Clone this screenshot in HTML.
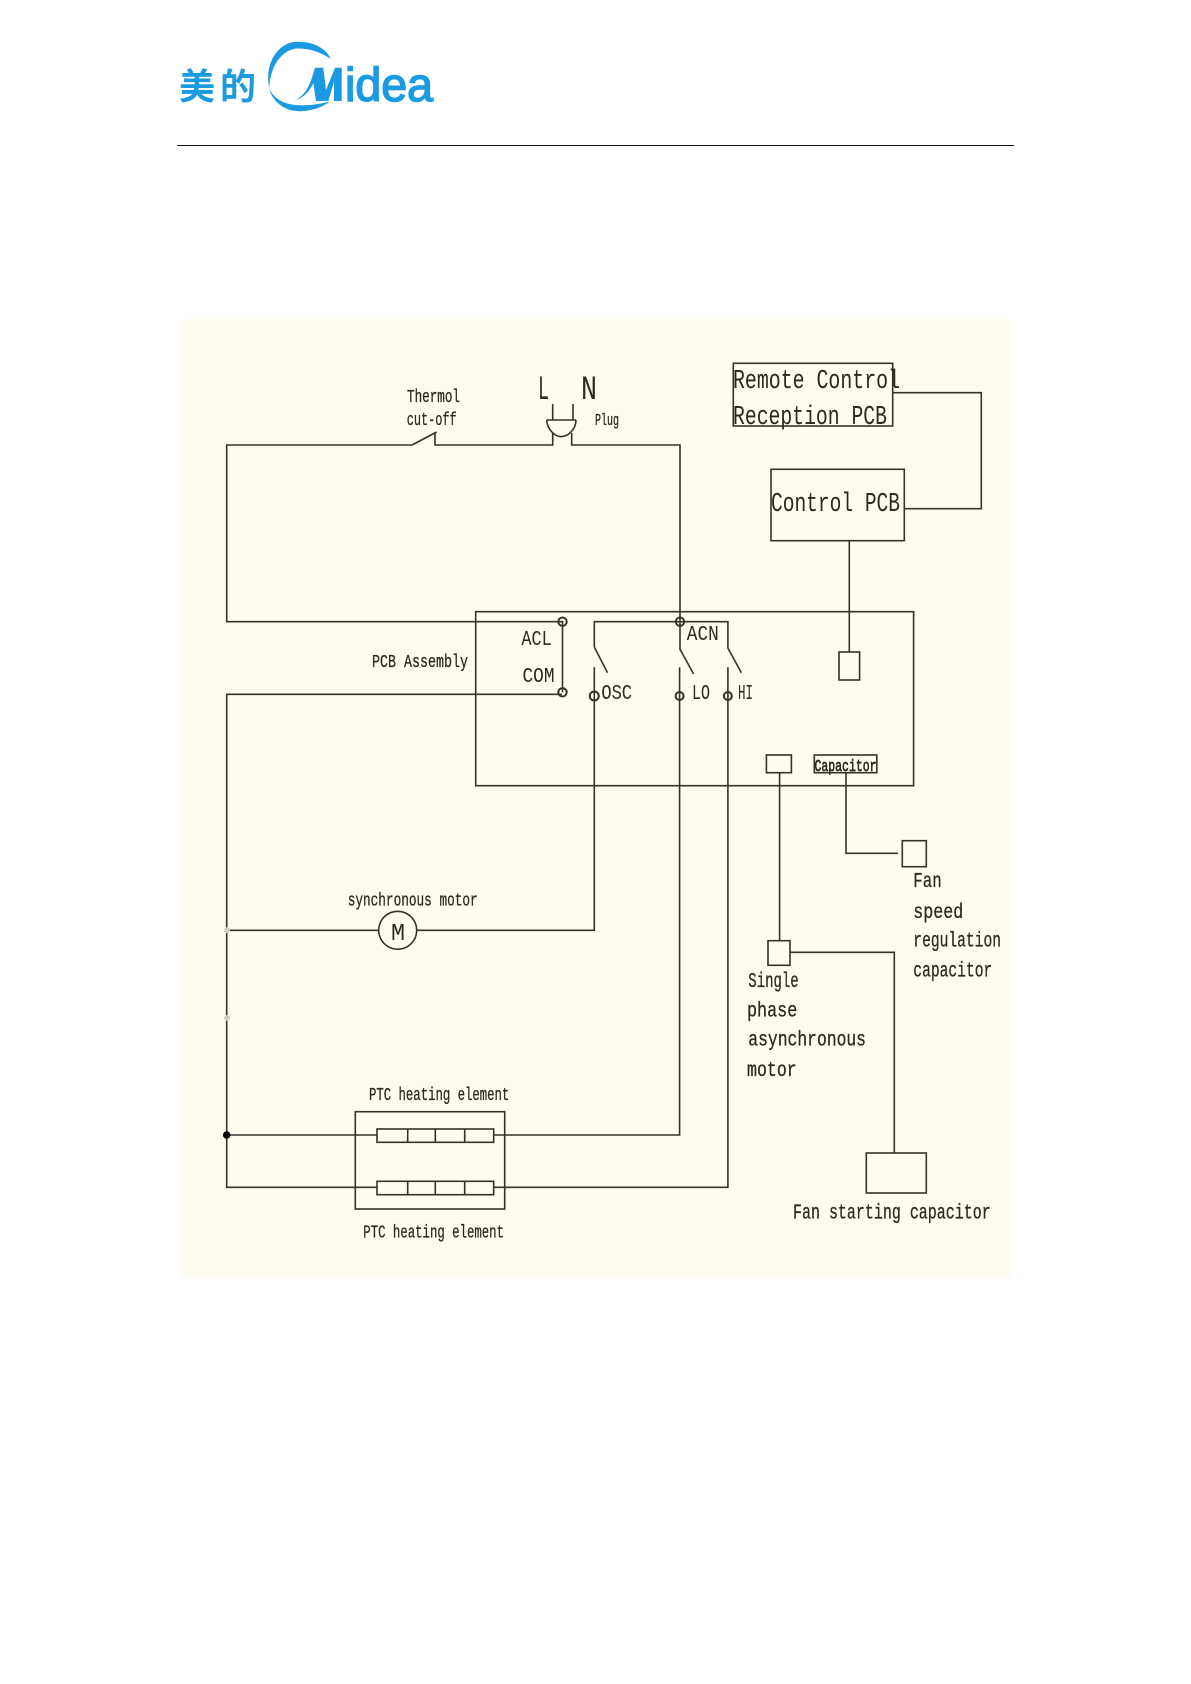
<!DOCTYPE html>
<html><head><meta charset="utf-8"><style>
html,body{margin:0;padding:0;background:#fff}
svg{display:block}
.t text{font-family:"Liberation Mono","Liberation Sans",monospace;fill:#2a2a20;stroke:#2a2a20;stroke-width:.3}
.t text.l{stroke-width:0}
</style></head><body>
<svg width="1191" height="1684" viewBox="0 0 1191 1684" xmlns="http://www.w3.org/2000/svg">
<defs><filter id="b" x="-2%" y="-2%" width="104%" height="104%"><feGaussianBlur stdDeviation="2"/></filter></defs>
<rect width="1191" height="1684" fill="#fff"/>
<rect x="181" y="319" width="830" height="958" fill="#fefcf0" filter="url(#b)"/>
<line x1="177" y1="145.5" x2="1014" y2="145.5" stroke="#111" stroke-width="1.1"/>

<!-- logo -->
<g fill="#1a9ae0">
<text x="179" y="99" font-size="36" style="font-family:'Noto Sans CJK SC',sans-serif" font-weight="700" textLength="77" lengthAdjust="spacing">美的</text>
<path d="M269.3 88.3C264 62 279 42 297 41.7C313 41.5 326 48 331 59C320 52 310 48.5 298 48.5C284 48.5 270 64 269.3 88.3Z"/>
<path d="M269.3 88.3C272 102 285 111.5 300 111.2C312 111 323 107 330 101.5C320 104 310 105.5 300 105.3C286 105 274 100 269.3 88.3Z"/>
<path d="M295 100.7C304 96 309 87 311.7 78.3L315 67.7H323.3L326 90L335 67.7H341.7V101H334V81.7L328.3 101H316L313.3 83.3C309 92 303 98 295 100.7Z"/>
<text x="345" y="101" font-size="47" textLength="88" lengthAdjust="spacingAndGlyphs" stroke="#1a9ae0" stroke-width="1.5" style="font-family:'Liberation Sans',sans-serif">idea</text>
</g>

<!-- wires -->
<g fill="none" stroke="#333328" stroke-width="1.6">
<path d="M412 445H226.7V621.7H562.5V692.3"/>
<path d="M412 445L436.7 432M435 432V445H552.7V433M552.7 404V420M573 404V420M546.7 420H576M546.7 420C547 430 556 437 561 436.5C567 437 576 430 576 420M571.7 433V445H680V649.3L693.6 674"/>
<path d="M594.3 647V621.7H727.9V648L741.4 672.7M594.3 647L607.5 672.7"/>
<path d="M594.3 667.3V930.3H416.7M378.7 930.3H226.7"/>
<path d="M679.6 667.3V1135H493.7"/>
<path d="M727.9 667.3V1187.3H493.7"/>
<path d="M562 694.3H226.7V1187.3H377M226.7 1135H377"/>
<rect x="475.7" y="611.7" width="437.9" height="174"/>
<rect x="733.3" y="363.3" width="159.4" height="62.7"/>
<rect x="771" y="469.3" width="133.3" height="71.4"/>
<path d="M892.7 392.7H981.3V508.7H904.3M849.3 540.7V652"/>
<rect x="839" y="652" width="20.6" height="28"/>
<rect x="766.4" y="755" width="25" height="17.7"/>
<rect x="814.3" y="755" width="62.5" height="17.7"/>
<path d="M779.6 772.7V940.7M846 772.7V853.3H898"/>
<rect x="902.3" y="840.7" width="24" height="26"/>
<rect x="768" y="940.7" width="22" height="24.6"/>
<path d="M790 952.3H894.3V1153"/>
<rect x="866.3" y="1153" width="60" height="40"/>
<rect x="355.3" y="1111.7" width="149.4" height="97.3"/>
<rect x="377" y="1129" width="116.7" height="13.3"/>
<rect x="377" y="1181.3" width="116.7" height="13.4"/>
<path d="M407.7 1129v13.3M435.3 1129v13.3M464.7 1129v13.3M407.7 1181.3v13.4M435.3 1181.3v13.4M464.7 1181.3v13.4"/>
<circle cx="397.7" cy="930.3" r="19"/>
<g stroke-width="2">
<circle cx="562.5" cy="621.7" r="4.2"/>
<circle cx="562.5" cy="692.3" r="4.2"/>
<circle cx="680" cy="621.7" r="4.2"/>
<circle cx="594.3" cy="696" r="4.5"/>
<circle cx="679.6" cy="696" r="4"/>
<circle cx="727.9" cy="696" r="4"/>
</g>
</g>
<circle cx="227" cy="930.3" r="3" fill="#cfcfc8"/>
<circle cx="227" cy="1018" r="3" fill="#cfcfc8"/>
<circle cx="226.7" cy="1135" r="3.8" fill="#000"/>

<!-- labels -->
<g class="t">
<text x="407" y="402" font-size="18" textLength="53" lengthAdjust="spacingAndGlyphs">Thermol</text>
<text x="406.7" y="425" font-size="18" textLength="50" lengthAdjust="spacingAndGlyphs">cut-off</text>
<text class="l" x="538" y="399" font-size="34" textLength="11" lengthAdjust="spacingAndGlyphs">L</text>
<text class="l" x="581" y="399" font-size="34" textLength="16" lengthAdjust="spacingAndGlyphs">N</text>
<text x="595" y="425" font-size="17" textLength="24" lengthAdjust="spacingAndGlyphs">Plug</text>
<text class="l" x="733" y="388" font-size="27" textLength="167" lengthAdjust="spacingAndGlyphs">Remote Control</text>
<text class="l" x="733" y="424" font-size="27" textLength="154" lengthAdjust="spacingAndGlyphs">Reception PCB</text>
<text class="l" x="771" y="511" font-size="27" textLength="129" lengthAdjust="spacingAndGlyphs">Control PCB</text>
<text class="l" x="521.4" y="645" font-size="21" textLength="30.4" lengthAdjust="spacingAndGlyphs">ACL</text>
<text class="l" x="522.5" y="682" font-size="21" textLength="32" lengthAdjust="spacingAndGlyphs">COM</text>
<text class="l" x="686.8" y="640" font-size="21" textLength="32" lengthAdjust="spacingAndGlyphs">ACN</text>
<text class="l" x="601.4" y="699" font-size="21" textLength="30.6" lengthAdjust="spacingAndGlyphs">OSC</text>
<text class="l" x="692" y="699" font-size="21" textLength="18" lengthAdjust="spacingAndGlyphs">LO</text>
<text class="l" x="738" y="699" font-size="21" textLength="15" lengthAdjust="spacingAndGlyphs">HI</text>
<text x="372" y="667" font-size="18" textLength="96" lengthAdjust="spacingAndGlyphs">PCB Assembly</text>
<text x="814.5" y="771" font-size="17" textLength="62" lengthAdjust="spacingAndGlyphs" style="stroke-width:.7">Capacitor</text>
<text x="913.3" y="887" font-size="21" textLength="28.4" lengthAdjust="spacingAndGlyphs">Fan</text>
<text x="913.3" y="918" font-size="21" textLength="50" lengthAdjust="spacingAndGlyphs">speed</text>
<text x="913.3" y="946.7" font-size="21" textLength="87.7" lengthAdjust="spacingAndGlyphs">regulation</text>
<text x="913.3" y="976.7" font-size="21" textLength="79" lengthAdjust="spacingAndGlyphs">capacitor</text>
<text x="748.3" y="987" font-size="21" textLength="50.4" lengthAdjust="spacingAndGlyphs">Single</text>
<text x="747" y="1016.7" font-size="21" textLength="50.3" lengthAdjust="spacingAndGlyphs">phase</text>
<text x="748.3" y="1045.7" font-size="21" textLength="117.7" lengthAdjust="spacingAndGlyphs">asynchronous</text>
<text x="747" y="1076" font-size="21" textLength="49.7" lengthAdjust="spacingAndGlyphs">motor</text>
<text x="347.7" y="905.7" font-size="18" textLength="130" lengthAdjust="spacingAndGlyphs">synchronous motor</text>
<text class="l" x="391" y="940" font-size="24" textLength="14" lengthAdjust="spacingAndGlyphs">M</text>
<text x="369" y="1100" font-size="18" textLength="140.3" lengthAdjust="spacingAndGlyphs">PTC heating element</text>
<text x="363.3" y="1237.3" font-size="18" textLength="140.7" lengthAdjust="spacingAndGlyphs">PTC heating element</text>
<text x="793" y="1218.3" font-size="21" textLength="197.7" lengthAdjust="spacingAndGlyphs">Fan starting capacitor</text>
</g>
</svg>
</body></html>
